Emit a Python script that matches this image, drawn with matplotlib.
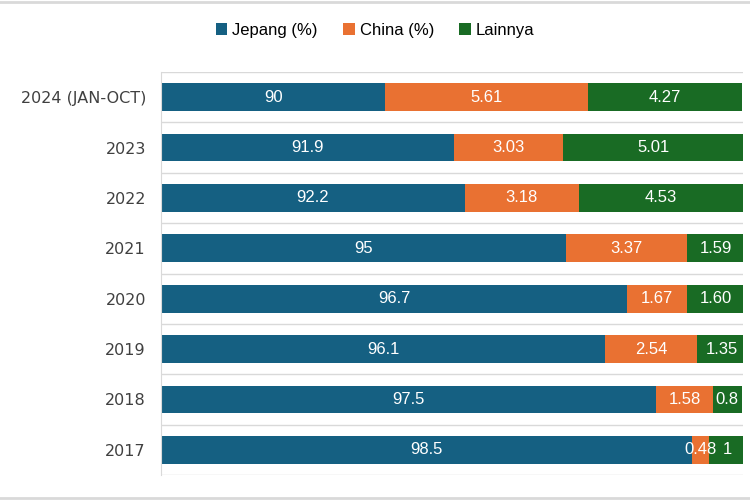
import matplotlib.pyplot as plt
import numpy as np
from matplotlib.lines import Line2D

years = ['2024 (JAN-OCT)', '2023', '2022', '2021', '2020', '2019', '2018', '2017']
jepang = [90, 91.9, 92.2, 95, 96.7, 96.1, 97.5, 98.5]
china = [5.61, 3.03, 3.18, 3.37, 1.67, 2.54, 1.58, 0.48]
lainnya = [4.27, 5.01, 4.53, 1.59, 1.60, 1.35, 0.8, 1]
jepang_lbl = ['90', '91.9', '92.2', '95', '96.7', '96.1', '97.5', '98.5']
china_lbl = ['5.61', '3.03', '3.18', '3.37', '1.67', '2.54', '1.58', '0.48']
lainnya_lbl = ['4.27', '5.01', '4.53', '1.59', '1.60', '1.35', '0.8', '1']

c_jp, c_cn, c_ot = '#156082', '#E97132', '#196B24'
font = ['Liberation Sans Narrow', 'Liberation Sans', 'DejaVu Sans']

fig = plt.figure(figsize=(7.5, 5), dpi=100)
ax = fig.add_axes([0.215, 0.05, 0.776, 0.806])

y = np.arange(len(years))
jp = np.array(jepang)
cn = np.array(china)
ot = np.array(lainnya)
h = 0.55
ax.barh(y, jp, height=h, color=c_jp, label='Jepang (%)')
ax.barh(y, cn, left=jp, height=h, color=c_cn, label='China (%)')
ax.barh(y, ot, left=jp + cn, height=h, color=c_ot, label='Lainnya')

# axis starts near 84, so only the tail of each bar is shown
x0, x1 = 83.8, 99.92
ax.set_xlim(x0, x1)
ax.set_ylim(len(years) - 0.5, -0.5)

for i in range(len(years)):
    kw = dict(ha='center', va='center', color='white', fontsize=12, family=font)
    ax.text((x0 + jp[i]) / 2, i, jepang_lbl[i], **kw)
    ax.text(jp[i] + cn[i] / 2, i, china_lbl[i], **kw)
    ax.text(jp[i] + cn[i] + ot[i] / 2, i, lainnya_lbl[i], **kw)

ax.set_yticks(y)
ax.set_yticklabels(years, fontsize=11.5, color='#404040')
ax.tick_params(axis='y', length=0, pad=11)
ax.set_xticks([])
ax.set_yticks(np.arange(len(years) + 1) - 0.5, minor=True)
ax.tick_params(axis='y', which='minor', length=0)
ax.grid(axis='y', which='minor', color='#d9d9d9', linewidth=1)
ax.set_axisbelow(True)
for s in ['top', 'right', 'bottom']:
    ax.spines[s].set_visible(False)
ax.spines['left'].set_color('#d9d9d9')

handles, labels = ax.get_legend_handles_labels()
fig.legend(handles, labels, loc='center', bbox_to_anchor=(0.5, 0.94), ncol=3,
           frameon=False, handlelength=0.7, handleheight=0.7, handletextpad=0.3,
           columnspacing=1.5, prop={'family': font, 'size': 12})

fig.add_artist(Line2D([0, 1], [0.997, 0.997], color='#d9d9d9', lw=2, transform=fig.transFigure))
fig.add_artist(Line2D([0, 1], [0.004, 0.004], color='#d9d9d9', lw=2, transform=fig.transFigure))

fig.savefig('out.png', dpi=100)
